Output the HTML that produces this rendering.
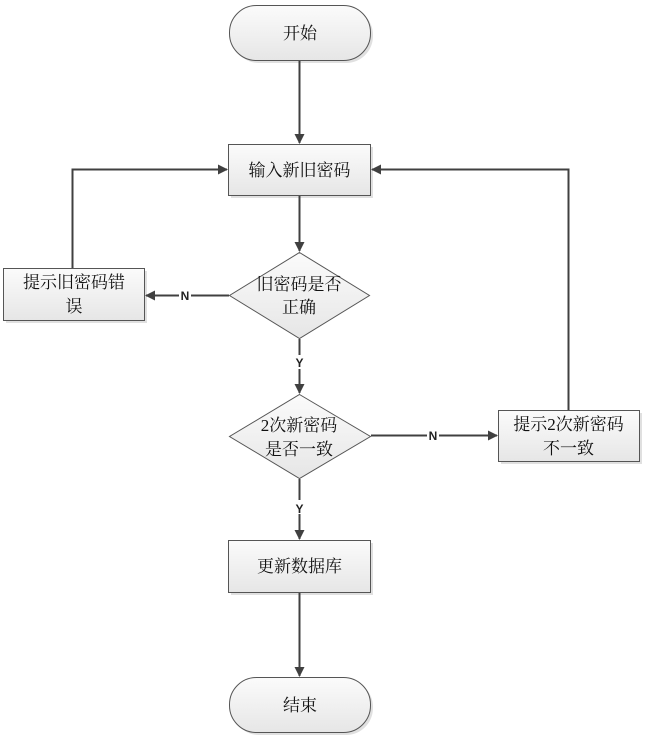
<!DOCTYPE html>
<html><head><meta charset="utf-8"><style>
html,body{margin:0;padding:0;background:#fff;}
svg{display:block;}
text{font-family:"Liberation Serif","Noto Serif CJK SC","Noto Sans CJK SC",serif;font-size:17px;fill:#111;text-anchor:middle;}
.l{font-family:"Liberation Sans",sans-serif;font-size:12px;font-weight:bold;fill:#222;}
</style></head><body>
<svg width="647" height="740" viewBox="0 0 647 740" xmlns="http://www.w3.org/2000/svg">
<defs>
<linearGradient id="g" x1="0" y1="0" x2="0" y2="1"><stop offset="0" stop-color="#fbfbfb"/><stop offset="1" stop-color="#e6e6e6"/></linearGradient>
<marker id="a" markerWidth="10" markerHeight="10" refX="9" refY="5" orient="auto" markerUnits="userSpaceOnUse"><path d="M0,0 L10,5 L0,10 z" fill="#404040"/></marker>
</defs>
<g fill="#ccc" opacity="0.6">
<rect x="232" y="8" width="141" height="55" rx="27"/>
<rect x="231" y="147" width="142" height="51"/>
<rect x="6" y="271" width="141" height="52"/>
<rect x="501" y="413" width="141" height="51"/>
<rect x="231" y="543" width="142" height="52"/>
<rect x="232" y="680" width="141" height="55" rx="27"/>
</g>
<g stroke="#555" stroke-width="1" fill="url(#g)">
<rect x="229.5" y="5.5" width="141" height="55" rx="27"/>
<rect x="228.5" y="144.5" width="142" height="51"/>
<polygon points="299.5,252.5 369.5,295.5 299.5,338.5 229.5,295.5"/>
<rect x="3.5" y="268.5" width="141" height="52"/>
<polygon points="299.5,394.5 370.5,436.5 299.5,478.5 229.5,436.5"/>
<rect x="498.5" y="410.5" width="141" height="51"/>
<rect x="228.5" y="540.5" width="142" height="52"/>
<rect x="229.5" y="677.5" width="141" height="55" rx="27"/>
</g>
<g stroke="#404040" stroke-width="2" fill="none" marker-end="url(#a)">
<line x1="299.5" y1="61" x2="299.5" y2="143"/>
<line x1="299.5" y1="196" x2="299.5" y2="251"/>
<line x1="229" y1="295.5" x2="146" y2="295.5"/>
<polyline points="72.5,268 72.5,169.5 227,169.5"/>
<line x1="299.5" y1="339" x2="299.5" y2="393"/>
<line x1="371" y1="435.5" x2="497" y2="435.5"/>
<polyline points="568.5,410 568.5,169.5 372,169.5"/>
<line x1="299.5" y1="479" x2="299.5" y2="539"/>
<line x1="299.5" y1="593" x2="299.5" y2="676"/>
</g>
<g fill="#fff">
<rect x="179" y="288" width="12" height="14"/>
<rect x="293" y="355" width="13" height="14"/>
<rect x="427" y="428" width="12" height="14"/>
<rect x="293" y="500" width="13" height="14"/>
</g>
<text class="l" x="185" y="300">N</text>
<text class="l" x="299.5" y="367">Y</text>
<text class="l" x="433" y="440">N</text>
<text class="l" x="299.5" y="513">Y</text>
<text x="300" y="39">开始</text>
<text x="299.5" y="176">输入新旧密码</text>
<text x="299" y="290">旧密码是否</text>
<text x="299" y="313">正确</text>
<text x="74" y="288">提示旧密码错</text>
<text x="74" y="312">误</text>
<text x="299" y="431">2次新密码</text>
<text x="299" y="455">是否一致</text>
<text x="568.5" y="430">提示2次新密码</text>
<text x="568.5" y="454">不一致</text>
<text x="299.5" y="572">更新数据库</text>
<text x="300" y="711">结束</text>
</svg>
</body></html>
